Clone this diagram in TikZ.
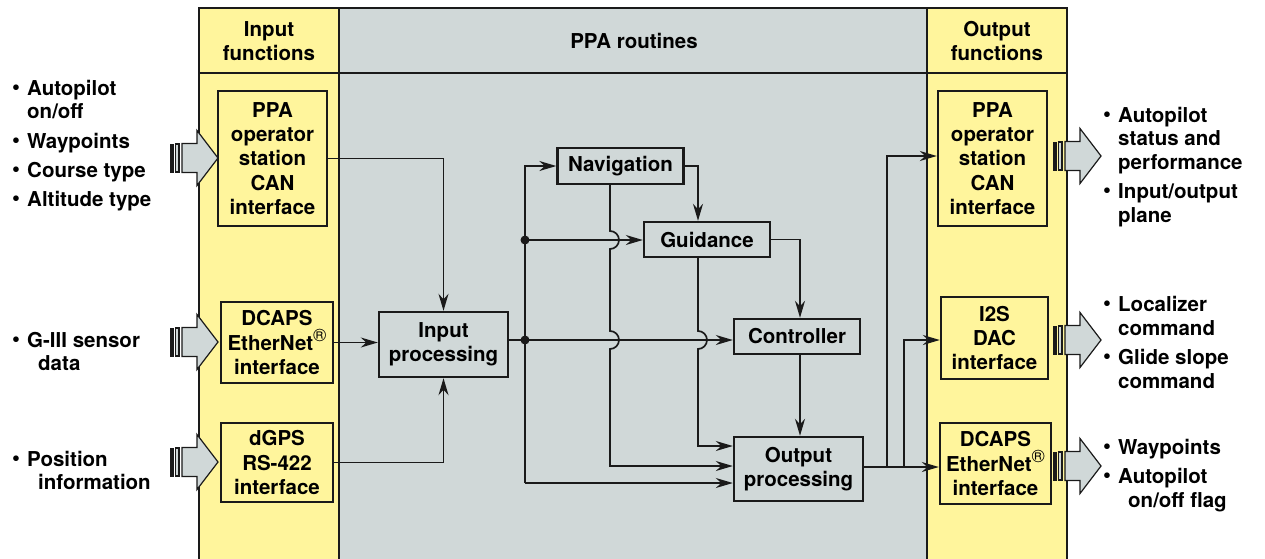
\documentclass[tikz,border=0pt]{standalone}
\usepackage{fontspec}
\setmainfont{TeX Gyre Heros}
\usetikzlibrary{arrows.meta,calc}

\definecolor{fnyellow}{HTML}{FFF59C}
\definecolor{ppagray}{HTML}{D0D8D8}
\definecolor{ink}{HTML}{1A1A1A}

\newcommand\txtfont{\bfseries\fontsize{20.5}{24.2}\selectfont}
\newcommand\bul{\makebox[15pt][l]{\raisebox{0.02em}{\scalebox{1.1}{\textbullet}}}}
\newcommand\regmark{\raisebox{0.4em}{\mdseries\fontsize{18}{18}\selectfont\textregistered}}

%big hollow arrow, tail at (#1,#2)
\newcommand\bigarr[2]{%
	\fill[ink] (#1,#2-14.5) rectangle (#1+3.5,#2+14.5);
	\filldraw[fill=ppagray,draw=ink,line width=1.2pt] (#1+5.5,#2-14) rectangle (#1+9,#2+14);
	\filldraw[fill=ppagray,draw=ink,line width=1.2pt,line join=miter]
		(#1+12,#2-14.5) -- (#1+27,#2-14.5) -- (#1+27,#2-27.5) -- (#1+48,#2)
		-- (#1+27,#2+27.5) -- (#1+27,#2+14.5) -- (#1+12,#2+14.5) -- cycle;
}

\tikzset{
	frame/.style={draw=ink,line width=2.4pt},
	hdr/.style={align=center,inner sep=0pt,font=\txtfont},
	box/.style={draw=ink,line width=2.4pt,align=center,inner sep=0pt,font=\txtfont},
	inbox/.style={box,fill=fnyellow},
	rbox/.style={box,fill=ppagray},
	wire/.style={draw=ink,line width=1.7pt},
	flow/.style={wire,-{Stealth[length=17pt,width=10pt,inset=5.5pt]}},
	lbl/.style={anchor=base west,inner sep=0pt,font=\txtfont},
	hop/.style={start angle=90,end angle=-90,radius=9pt},
}

\begin{document}
\begin{tikzpicture}[x=1pt,y=-1pt]
	\useasboundingbox (0,0) rectangle (1265,558);

	%columns
	\fill[fnyellow] (199,8) rectangle (339,560);
	\fill[ppagray]  (339,8) rectangle (927,560);
	\fill[fnyellow] (927,8) rectangle (1067,560);
	\draw[frame] (199,560) -- (199,8) -- (1067,8) -- (1067,560);
	\draw[frame] (339,8) -- (339,560);
	\draw[frame] (927,8) -- (927,560);
	\draw[frame] (199,73) -- (1067,73);

	%headers
	\node[hdr] (hin)  at (269,41) {Input\\functions};
	\node[hdr] (hppa) at (634,41) {PPA routines};
	\node[hdr] (hout) at (997,41) {Output\\functions};

	%input functions
	\node[inbox,minimum width=109,minimum height=135] (inppa)   at (272.5,158.5) {PPA\\operator\\station\\CAN\\interface};
	\node[inbox,minimum width=112,minimum height=81]  (indcaps) at (277,342.5)   {DCAPS\\EtherNet\regmark\\interface};
	\node[inbox,minimum width=112,minimum height=79]  (indgps)  at (277,462.5)   {dGPS\\RS-422\\interface};

	%output functions
	\node[inbox,minimum width=109,minimum height=135] (outppa)   at (992.5,158.5) {PPA\\operator\\station\\CAN\\interface};
	\node[inbox,minimum width=107,minimum height=82]  (outi2s)   at (994.5,338)   {I2S\\DAC\\interface};
	\node[inbox,minimum width=111,minimum height=81]  (outdcaps) at (995.5,463.5) {DCAPS\\EtherNet\regmark\\interface};

	%PPA routines
	\node[rbox,minimum width=129,minimum height=65] (inproc)  at (443.5,344.5) {Input\\processing};
	\node[rbox,minimum width=126,minimum height=36] (nav)     at (620.5,166)   {Navigation};
	\node[rbox,minimum width=126,minimum height=35] (guid)    at (707,239.5)   {Guidance};
	\node[rbox,minimum width=126,minimum height=35] (ctrl)    at (797,336.5)   {Controller};
	\node[rbox,minimum width=129,minimum height=64] (outproc) at (798.5,469)   {Output\\processing};

	%junctions
	\coordinate (jn) at (525,240);
	\coordinate (js) at (525,340);
	\coordinate (jt) at (525,166);
	\coordinate (jb) at (525,483);
	\coordinate (navdrop) at (610,466);
	\coordinate (guiddrop) at (698,446);
	\coordinate (ctrlin) at (800,0);
	\coordinate (oa) at (887,467);
	\coordinate (ob) at (904,467);

	%into input processing
	\draw[flow] (inppa.east) -| (inproc.north);
	\draw[flow] (indgps.east) -| (inproc.south);
	\draw[flow] (indcaps.east) -- (inproc.west |- indcaps.east);

	%distribution line
	\draw[wire] (inproc.east |- js) -- (js);
	\draw[flow] (jb) -- (jt) -- (nav.west |- jt);
	\draw[flow] (jb) -- (outproc.west |- jb);
	\draw[flow] (jn) -- (guid.west |- jn);
	\draw[flow] (js) -- (ctrl.west |- js);
	\fill[ink] (jn) circle[radius=4.5pt];
	\fill[ink] (js) circle[radius=4.5pt];

	%navigation and guidance drops, hopping over the crossings
	\draw[flow] (nav.south -| navdrop) -- (610,231) arc[hop] -- (610,331) arc[hop]
		-- (navdrop) -- (outproc.west |- navdrop);
	\draw[flow] (nav.east) -| (guid.north -| guiddrop);
	\draw[flow] (guid.south -| guiddrop) -- (698,331) arc[hop]
		-- (guiddrop) -- (outproc.west |- guiddrop);
	\draw[flow] (guid.east) -| (ctrl.north -| ctrlin);
	\draw[flow] (ctrl.south -| ctrlin) -- (outproc.north -| ctrlin);

	%outputs
	\draw[flow] (outproc.east |- oa) -- (outdcaps.west |- oa);
	\draw[flow] (oa) |- (outppa.west |- 0,156);
	\draw[flow] (ob) |- (outi2s.west |- 0,340);

	%big arrows
	\bigarr{170}{158}
	\bigarr{170}{342}
	\bigarr{170}{462}
	\bigarr{1053}{156}
	\bigarr{1053}{340}
	\bigarr{1053}{466}

	%labels - left
	\node[lbl] (l1) at (12,95)  {\bul Autopilot};
	\node[lbl] (l2) at (27,118) {on/off};
	\node[lbl] (l3) at (12,148) {\bul Waypoints};
	\node[lbl] (l4) at (12,177) {\bul Course type};
	\node[lbl] (l5) at (12,206) {\bul Altitude type};
	\node[lbl] (l6) at (12,347) {\bul G-III sensor};
	\node[lbl] (l7) at (38,370) {data};
	\node[lbl] (l8) at (12,466) {\bul Position};
	\node[lbl] (l9) at (38,489) {information};

	%labels - right
	\node[lbl] (r1)  at (1103,122) {\bul Autopilot};
	\node[lbl] (r2)  at (1118,145) {status and};
	\node[lbl] (r3)  at (1118,169) {performance};
	\node[lbl] (r4)  at (1103,198) {\bul Input/output};
	\node[lbl] (r5)  at (1118,222) {plane};
	\node[lbl] (r6)  at (1103,311) {\bul Localizer};
	\node[lbl] (r7)  at (1118,335) {command};
	\node[lbl] (r8)  at (1103,364) {\bul Glide slope};
	\node[lbl] (r9)  at (1118,388) {command};
	\node[lbl] (r10) at (1103,454) {\bul Waypoints};
	\node[lbl] (r11) at (1103,483) {\bul Autopilot};
	\node[lbl] (r12) at (1128,507) {on/off flag};
\end{tikzpicture}
\end{document}
